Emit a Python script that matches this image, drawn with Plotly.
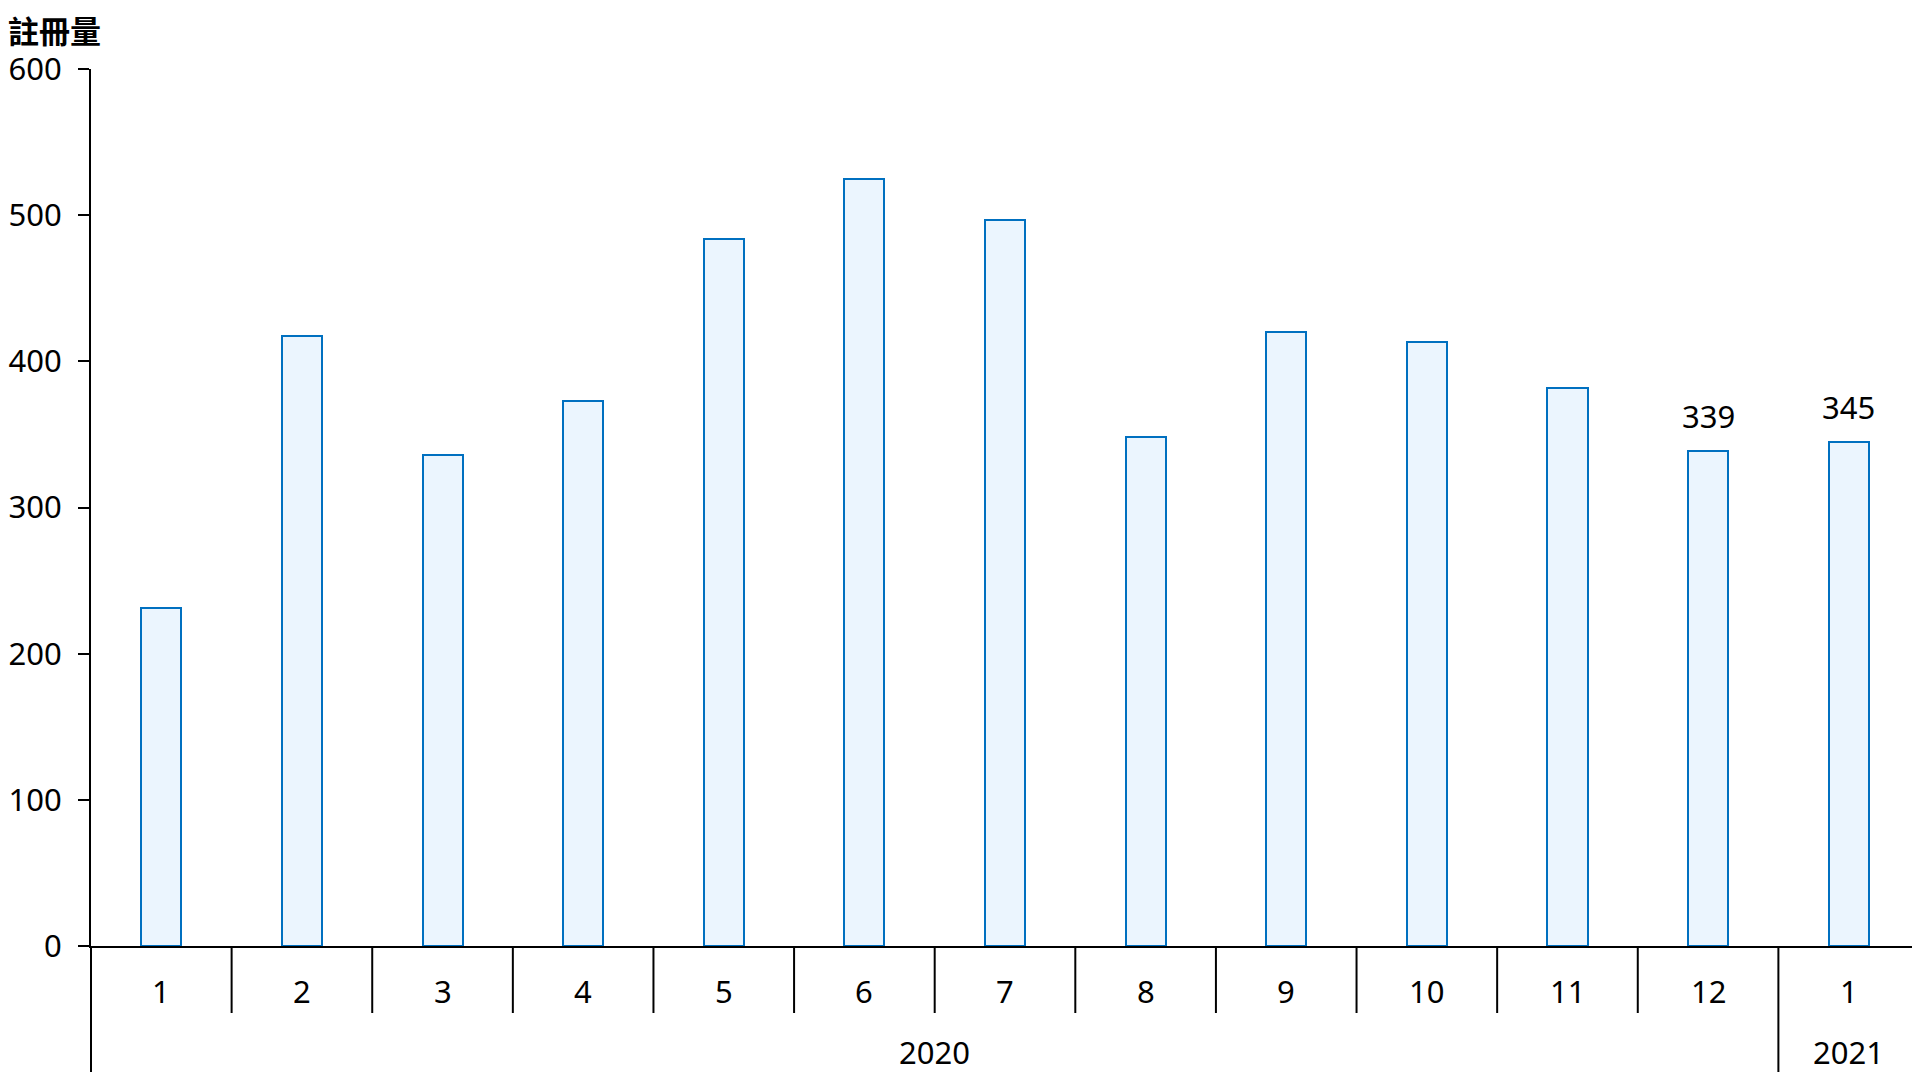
import plotly.graph_objects as go

# ---- data ----
months = ["1", "2", "3", "4", "5", "6", "7", "8", "9", "10", "11", "12", "1"]
years = ["2020"] * 12 + ["2021"]
registrations = [231, 417, 336, 373, 484, 525, 497, 348, 420, 413, 382, 339, 345]
labelled = [False] * 11 + [True, True]
y_title = "註冊量"
y_ticks = [0, 100, 200, 300, 400, 500, 600]

FONT = "Noto Sans, Open Sans, sans-serif"
CJK = "Noto Sans CJK TC, Noto Sans CJK SC, sans-serif"
n = len(months)
xs = list(range(n))
xmin, xmax = -0.5, n - 0.5

# page body has an 8px margin; size the figure so it fits the window without scrolling
W, H = 1912, 1064
ML, MR, MT, MB = 83, 1, 61, 126
plot_h = H - MT - MB


def px_below(p):
    return -p / plot_h


def xpaper(v):
    return (v - xmin) / (xmax - xmin)


fig = go.Figure()
fig.add_trace(go.Bar(
    x=xs, y=registrations, width=0.285,
    marker=dict(color="#EBF5FE", line=dict(color="#0070C0", width=2)),
    hoverinfo="x+y",
))

annotations = []
# month labels
for i, m in enumerate(months):
    annotations.append(dict(x=i, xref="x", y=px_below(45), yref="paper", text=m,
                            showarrow=False, xanchor="center", yanchor="middle",
                            font=dict(family=FONT, size=31, color="black")))
# year groups
groups = []
for i, yr in enumerate(years):
    if not groups or groups[-1][0] != yr:
        groups.append([yr, i, i])
    else:
        groups[-1][2] = i
for yr, a, b in groups:
    annotations.append(dict(x=(a + b) / 2, xref="x", y=px_below(106), yref="paper", text=yr,
                            showarrow=False, xanchor="center", yanchor="middle",
                            font=dict(family=FONT, size=31, color="black")))
# value labels
for i, (v, lab) in enumerate(zip(registrations, labelled)):
    if lab:
        annotations.append(dict(x=i, xref="x", y=v, yref="y", text=str(v), showarrow=False,
                                xanchor="center", yanchor="bottom", yshift=12,
                                font=dict(family=FONT, size=31, color="black")))
# y title
annotations.append(dict(x=0, xref="paper", y=1, yref="paper", text="<b>" + y_title + "</b>",
                        showarrow=False, xanchor="left", yanchor="middle",
                        xshift=-85, yshift=40,
                        font=dict(family=CJK, size=31, color="black")))

shapes = []
group_edges = set()
for yr, a, b in groups:
    group_edges.add(a - 0.5)
    group_edges.add(b + 0.5)
for k in range(n + 1):
    bnd = k - 0.5
    depth = MB if bnd in group_edges else 67
    shapes.append(dict(type="line", xref="paper", yref="paper",
                       x0=xpaper(bnd), x1=xpaper(bnd), y0=0, y1=px_below(depth),
                       line=dict(color="black", width=2)))

fig.update_layout(
    width=W, height=H,
    margin=dict(l=ML, r=MR, t=MT, b=MB, pad=0, autoexpand=False),
    paper_bgcolor="white", plot_bgcolor="white",
    showlegend=False,
    bargap=0,
    annotations=annotations,
    shapes=shapes,
    xaxis=dict(range=[xmin, xmax], showticklabels=False, ticks="", showgrid=False,
               zeroline=False, showline=True, linecolor="black", linewidth=2,
               fixedrange=True, automargin=False),
    yaxis=dict(range=[0, 600], tickvals=y_ticks, ticks="outside", ticklen=11, tickwidth=2,
               tickcolor="black", showgrid=False, zeroline=False, showline=True,
               linecolor="black", linewidth=2, ticklabelstandoff=10, automargin=False,
               tickfont=dict(family=FONT, size=31, color="black"), fixedrange=True),
)

fig.write_html("out.html")
